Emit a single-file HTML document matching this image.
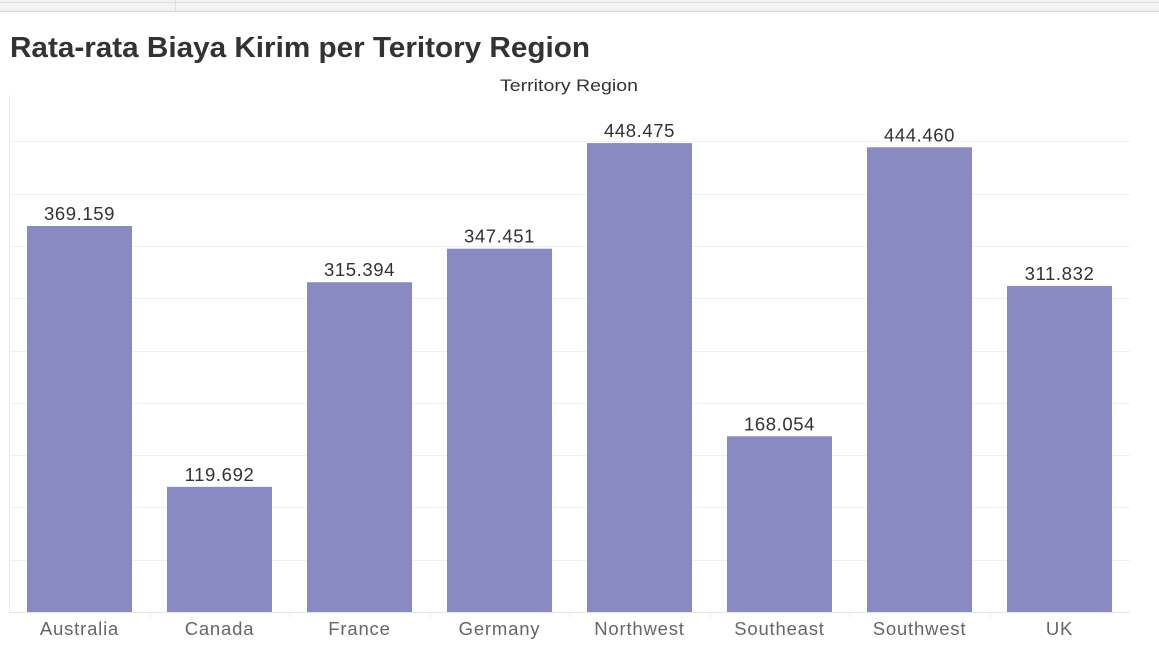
<!DOCTYPE html>
<html><head><meta charset="utf-8"><style>
body{margin:0;width:1159px;height:652px;background:#fff;overflow:hidden;font-family:"Liberation Sans",sans-serif;}
</style></head><body>
<svg id="chart" width="1159" height="652">
  <rect x="0" y="0" width="1159" height="11" fill="#f3f3f3"/>
  <line x1="0" y1="2.5" x2="1159" y2="2.5" stroke="#ddd"/>
  <line x1="0" y1="11.5" x2="1159" y2="11.5" stroke="#d4d4d4"/>
  <line x1="175.5" y1="0" x2="175.5" y2="11" stroke="#ddd"/>
  <text x="10" y="57" font-size="29" font-weight="bold" fill="#333" textLength="580" lengthAdjust="spacingAndGlyphs">Rata-rata Biaya Kirim per Teritory Region</text>
  <text x="569" y="91" font-size="17" fill="#333" text-anchor="middle" textLength="138" lengthAdjust="spacingAndGlyphs">Territory Region</text>
  <line x1="9.5" y1="95" x2="9.5" y2="612" stroke="#eee"/>
  <g id="grid"></g><g id="bars"></g><g id="labels"></g>
</svg>
<script>
const categories = ["Australia","Canada","France","Germany","Northwest","Southeast","Southwest","UK"];
const values = [369.159,119.692,315.394,347.451,448.475,168.054,444.460,311.832];
const valueLabels = ["369.159","119.692","315.394","347.451","448.475","168.054","444.460","311.832"];
const gridTicks = [0,50,100,150,200,250,300,350,400,450];

const NS="http://www.w3.org/2000/svg";
const y0=612, pxPerUnit=386/369.159;
function yScale(v){return y0 - v*pxPerUnit;}
function xCenter(i){return 79.5 + i*140;}
const grid=document.getElementById('grid'), bars=document.getElementById('bars'), labels=document.getElementById('labels');
gridTicks.forEach(t=>{
  const l=document.createElementNS(NS,'line');
  const y=Math.round(yScale(t))+0.5;
  l.setAttribute('x1',9);l.setAttribute('x2',1130);l.setAttribute('y1',y);l.setAttribute('y2',y);
  l.setAttribute('stroke', t===0?'#e6e6e6':'#f0f0f0');
  
  
  grid.appendChild(l);
});
categories.forEach((c,i)=>{
  const cx=xCenter(i), w=105;
  const r=document.createElementNS(NS,'rect');
  r.setAttribute('x',cx-w/2);r.setAttribute('y',yScale(values[i]));
  r.setAttribute('width',w);r.setAttribute('height',y0-yScale(values[i]));
  r.setAttribute('fill','#8a8ac3');
  
  
  bars.appendChild(r);
  const t=document.createElementNS(NS,'text');
  t.setAttribute('x',cx);t.setAttribute('y',yScale(values[i])-6);
  t.setAttribute('text-anchor','middle');t.setAttribute('font-size','18.5');t.setAttribute('fill','#333');
  t.setAttribute('letter-spacing','0.6');
  t.textContent=valueLabels[i];
  
  
  labels.appendChild(t);
  const a=document.createElementNS(NS,'text');
  a.setAttribute('x',cx);a.setAttribute('y',635);
  a.setAttribute('text-anchor','middle');a.setAttribute('font-size','18.5');a.setAttribute('fill','#666');
  a.setAttribute('letter-spacing','0.8');
  a.textContent=c;
  
  
  labels.appendChild(a);
  if(i>0){
    const s=document.createElementNS(NS,'line');
    const sx=cx-70+0.5;
    s.setAttribute('x1',sx);s.setAttribute('x2',sx);s.setAttribute('y1',612);s.setAttribute('y2',618);
    s.setAttribute('stroke','#eee');
    
    
    grid.appendChild(s);
  }
});
</script>
</body></html>
